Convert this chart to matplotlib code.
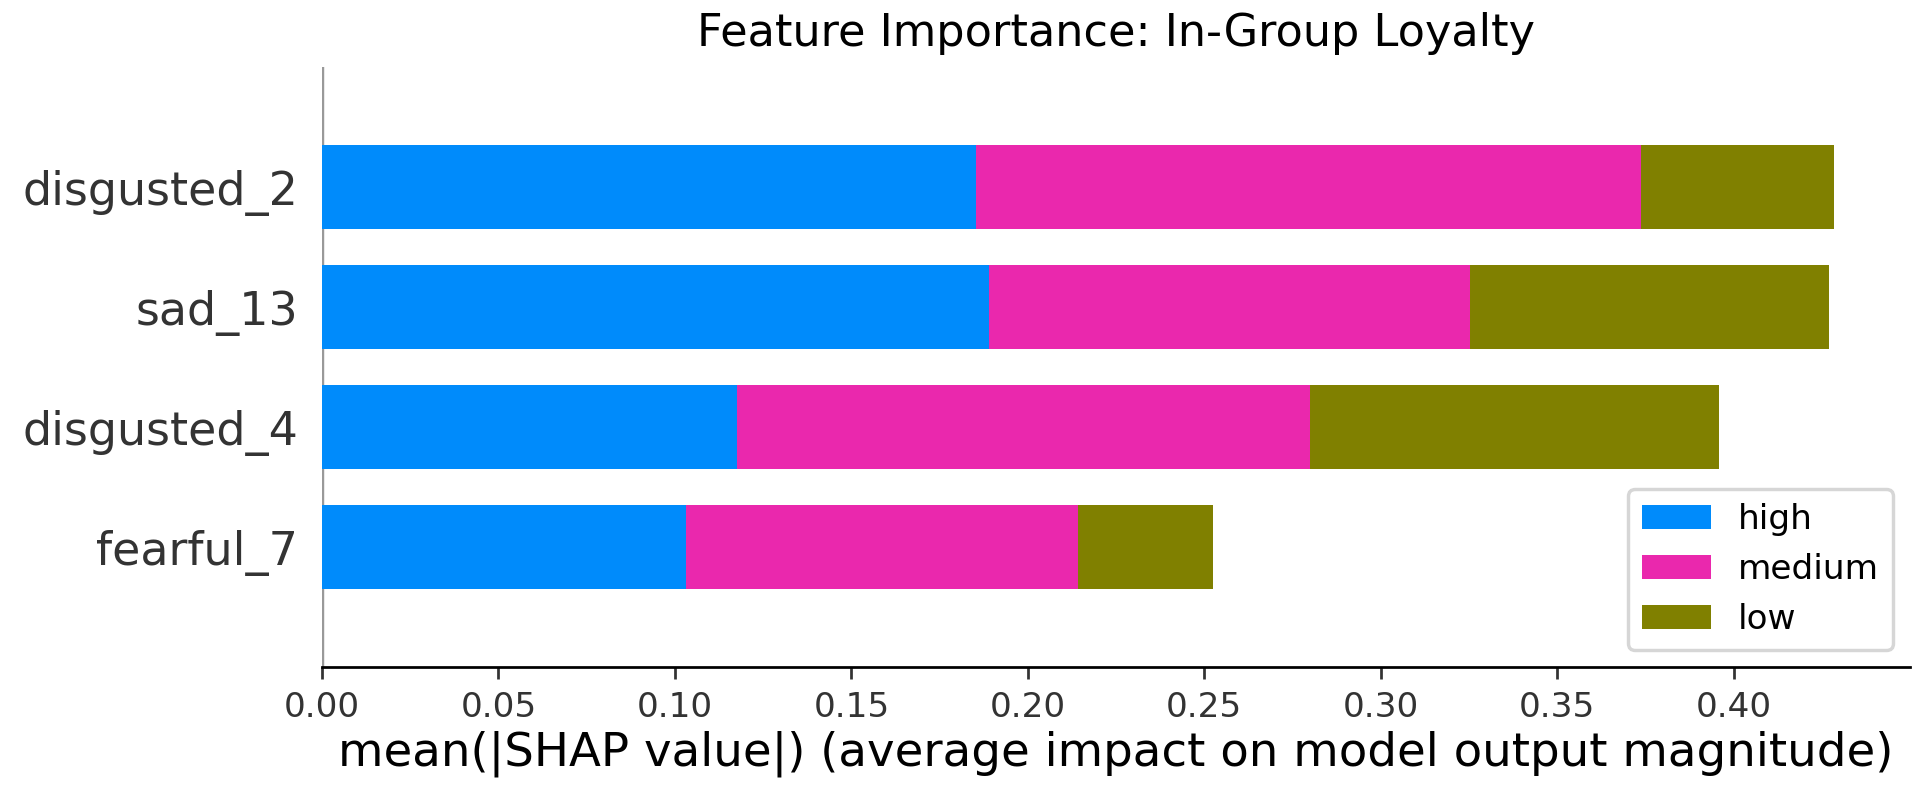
import numpy as np
import matplotlib.pyplot as plt

# feature names, bottom to top
features = ['fearful_7', 'disgusted_4', 'sad_13', 'disgusted_2']
classes = ['high', 'medium', 'low']

# mean(|SHAP value|) per class
high = [0.1032, 0.1175, 0.1890, 0.1852]
medium = [0.1111, 0.1624, 0.1364, 0.1885]
low = [0.0382, 0.1159, 0.1016, 0.0548]

colors = ['#008bfb', '#ea28ad', '#808000']
axis_color = '#333333'

DPI = 247


def main():
    fig = plt.figure(figsize=(1926 / DPI, 810 / DPI), dpi=DPI)
    ax = fig.add_axes([322 / 1926, 1 - 667 / 810, (1910 - 322) / 1926, 600 / 810])

    y_pos = np.arange(len(features))
    left = np.zeros(len(features))
    for cls, vals, c in zip(classes, [high, medium, low], colors):
        ax.barh(y_pos, vals, 0.7, left=left, color=c, label=cls)
        left += np.array(vals)

    ax.axvline(x=0, color='#999999', zorder=-1, lw=1.0)
    ax.xaxis.set_ticks_position('bottom')
    ax.yaxis.set_ticks_position('none')
    ax.spines['right'].set_visible(False)
    ax.spines['top'].set_visible(False)
    ax.spines['left'].set_visible(False)
    ax.tick_params(color=axis_color, labelcolor=axis_color)
    ax.set_yticks(y_pos)
    ax.set_yticklabels(features, fontsize=13.4)
    ax.tick_params(axis='x', labelsize=10)
    ax.set_ylim(-1, len(features))
    ax.set_xlabel('mean(|SHAP value|) (average impact on model output magnitude)',
                  fontsize=13.6, labelpad=2)
    ax.set_title('Feature Importance: In-Group Loyalty', fontsize=13)
    ax.legend(loc='lower right', fontsize=10)

    fig.savefig('out.png', dpi=DPI)


if __name__ == '__main__':
    main()
